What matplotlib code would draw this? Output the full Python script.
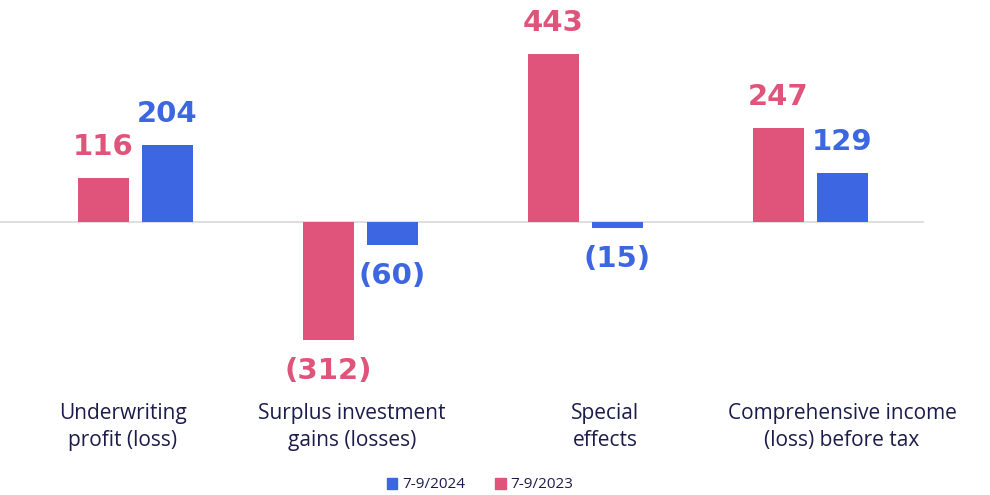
import matplotlib.pyplot as plt
import numpy as np

# data
categories = ["Underwriting\nprofit (loss)", "Surplus investment\ngains (losses)",
              "Special\neffects", "Comprehensive income\n(loss) before tax"]
v2023 = [116, -312, 443, 247]
v2024 = [204, -60, -15, 129]
series_names = ["7-9/2024", "7-9/2023"]

pink = "#E0537A"
blue = "#3C66E2"
navy = "#1C1C4C"

def fmt(v):
    return "(%d)" % abs(v) if v < 0 else "%d" % v

fig = plt.figure(figsize=(9.9, 4.95), dpi=100)
ax = fig.add_axes([0, 0, 1, 1])

x = np.arange(len(categories))
w = 0.227
off = 0.142
ax.bar(x - off, v2023, w, color=pink, label=series_names[1])
ax.bar(x + off, v2024, w, color=blue, label=series_names[0])

ax.plot([-0.61, 3.5], [0, 0], color="#d9d9d9", lw=1.2, zorder=0)

for xs, vals, col in [(x - off, v2023, pink), (x + off, v2024, blue)]:
    for xi, v in zip(xs, vals):
        dy = 31 / 0.379
        y = v + dy if v >= 0 else v - dy
        ax.text(xi, y, fmt(v), ha="center", va="center", color=col,
                fontsize=21, fontweight="heavy", family=["DejaVu Sans"])

# category labels (slightly off group centres as in the source)
label_x = [-0.056, 0.962, 2.087, 3.14]
for lx, c in zip(label_x, categories):
    ax.text(lx, -540, c, ha="center", va="center", color=navy,
            fontsize=15, family=["Open Sans"], linespacing=1.4)

ax.set_xlim(-0.602, 3.798)
ax.set_ylim(-720, 586)
ax.axis("off")

handles = [plt.Rectangle((0, 0), 1, 1, color=blue), plt.Rectangle((0, 0), 1, 1, color=pink)]
leg = fig.legend(handles, series_names, loc="center", bbox_to_anchor=(480 / 990, 1 - 485 / 495),
                 ncol=2, frameon=False, handlelength=0.7, handleheight=0.7,
                 handletextpad=0.3, columnspacing=2.0, prop={"family": "Open Sans", "size": 11})
for t in leg.get_texts():
    t.set_color(navy)

fig.savefig("out.png", dpi=100)
